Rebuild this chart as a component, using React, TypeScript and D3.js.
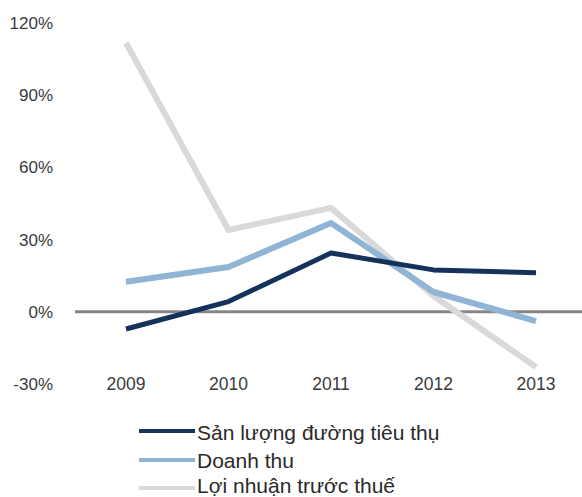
import React from "react";
import * as d3 from "d3";

const years = ["2009", "2010", "2011", "2012", "2013"];
const sanLuong = [-7.2, 4.2, 24.4, 17.4, 16.2];
const doanhThu = [12.5, 18.6, 36.9, 8.2, -3.9];
const loiNhuan = [111.8, 34, 43.2, 6.5, -23];
const yTicks = [120, 90, 60, 30, 0, -30];
const seriesNames = ["Sản lượng đường tiêu thụ", "Doanh thu", "Lợi nhuận trước thuế"];
const seriesColors = ["#15335a", "#8fb4d4", "#d9d9d9"];
const seriesWidths = [5, 6, 6];

export default function App() {
  const W = 582;
  const H = 497;
  const x = d3.scalePoint<string>().domain(years).range([126, 536]);
  const y = d3.scaleLinear().domain([-30, 120]).range([383.8, 23.3]);
  const line = d3
    .line<number>()
    .x((_, i) => x(years[i]) as number)
    .y((d) => y(d));
  const series = [sanLuong, doanhThu, loiNhuan];
  const font = "'Liberation Sans', Arial, sans-serif";
  const legendLineY = [431, 460, 488];
  const legendTextY = [439.5, 468, 493];

  return (
    <svg
      width={W}
      height={H}
      style={{ position: "absolute", left: 0, top: 0, background: "#fff" }}
      fontFamily={font}
    >
      {yTicks.map((t) => (
        <text
          key={t}
          x={53}
          y={y(t)}
          dy="0.35em"
          textAnchor="end"
          fontSize={17}
          fill="#3a3a3a"
        >
          {t + "%"}
        </text>
      ))}
      <line x1={75} x2={582} y1={y(0)} y2={y(0)} stroke="#878787" strokeWidth={3} />
      {years.map((yr) => (
        <text
          key={yr}
          x={x(yr)}
          y={y(-30)}
          dy="0.35em"
          textAnchor="middle"
          fontSize={17.5}
          fill="#3a3a3a"
        >
          {yr}
        </text>
      ))}
      {[2, 1, 0].map((i) => (
        <path
          key={i}
          d={line(series[i]) || ""}
          fill="none"
          stroke={seriesColors[i]}
          strokeWidth={seriesWidths[i]}
          strokeLinejoin="round"
          strokeLinecap="butt"
        />
      ))}
      {seriesNames.map((n, i) => (
        <g key={n}>
          <line
            x1={139}
            x2={195}
            y1={legendLineY[i]}
            y2={legendLineY[i]}
            stroke={seriesColors[i]}
            strokeWidth={4}
          />
          <text x={197} y={legendTextY[i]} fontSize={21} fill="#2a2a2a">
            {n}
          </text>
        </g>
      ))}
    </svg>
  );
}
